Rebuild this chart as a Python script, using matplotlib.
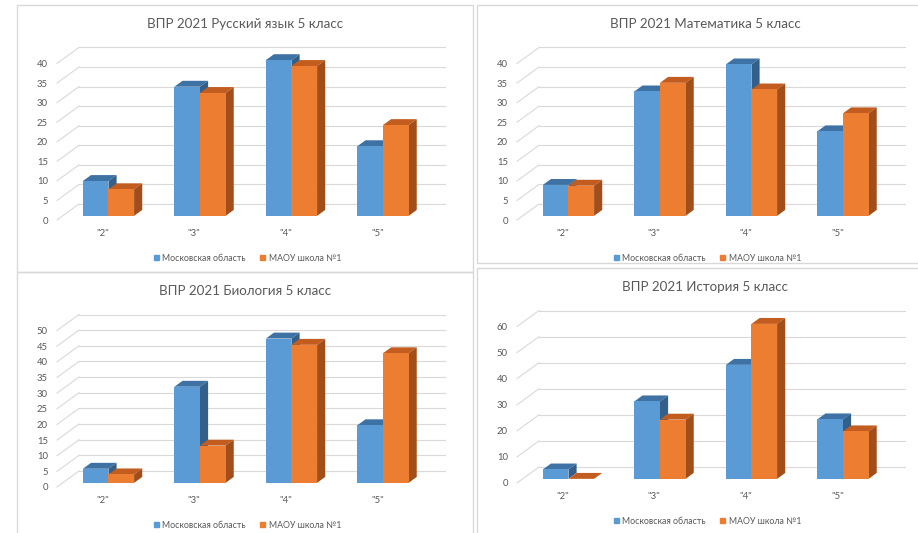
import numpy as np
import matplotlib.pyplot as plt
from matplotlib.patches import Polygon, Patch, Rectangle

plt.rcParams['font.family'] = ['Lato', 'DejaVu Sans']

# Data
CATEGORIES = ['"2"', '"3"', '"4"', '"5"']
SERIES = ['Московская область', 'МАОУ школа №1']

RUS_TITLE = 'ВПР 2021 Русский язык 5 класс'
RUS_MOSCOW = [8.9, 33.0, 39.8, 17.8]
RUS_SCHOOL = [6.8, 31.4, 38.3, 23.2]

MATH_TITLE = 'ВПР 2021 Математика 5 класс'
MATH_MOSCOW = [7.9, 31.8, 38.7, 21.6]
MATH_SCHOOL = [7.7, 34.0, 32.3, 26.2]

BIO_TITLE = 'ВПР 2021 Биология 5 класс'
BIO_MOSCOW = [4.5, 30.7, 46.1, 18.4]
BIO_SCHOOL = [2.7, 11.9, 44.1, 41.4]

HIST_TITLE = 'ВПР 2021 История 5 класс'
HIST_MOSCOW = [3.6, 29.7, 43.7, 22.8]
HIST_SCHOOL = [0.0, 22.7, 59.4, 18.2]

# Style / layout (pixels)
W, H = 918, 533
FLOOR_X, FLOOR_Y, FLOOR_W, TOP_Y = 40, 215, 366, 58.5
WALL_DX, WALL_DY = 22, 16
BAR_F0, BAR_F1 = 0.26, 0.63
BAR_W = 0.28
GRID = '#d9d9d9'
TEXT = '#595959'
BLUE = ('#5b9bd5', '#3f72a4', '#33608a')      # front, top, side
ORANGE = ('#ed7d31', '#c35c1f', '#a14e1b')

fig = plt.figure(figsize=(W / 100, H / 100), dpi=100)


def draw_box(ax, left, val, cols, wx, wy):
    x0 = left + BAR_F0 * wx
    y0 = BAR_F0 * wy
    x1 = x0 + BAR_W
    top = y0 + val
    dx = (BAR_F1 - BAR_F0) * wx
    dy = (BAR_F1 - BAR_F0) * wy
    faces = [
        ([(x0, top), (x1, top), (x1 + dx, top + dy), (x0 + dx, top + dy)], cols[1]),
        ([(x1, y0), (x1 + dx, y0 + dy), (x1 + dx, top + dy), (x1, top)], cols[2]),
        ([(x0, y0), (x1, y0), (x1, top), (x0, top)], cols[0]),
    ]
    for pts, c in faces:
        ax.add_patch(Polygon(pts, closed=True, facecolor=c, edgecolor='none',
                             clip_on=False, zorder=2))


def draw_panel(ox, oy, title, moscow, school, ymax, step):
    ax = fig.add_axes([(ox + FLOOR_X) / W, 1 - (oy + FLOOR_Y) / H,
                       FLOOR_W / W, (FLOOR_Y - TOP_Y) / H])
    ax.set_xlim(0, 4)
    ax.set_ylim(0, ymax)
    wx = WALL_DX * 4 / FLOOR_W
    wy = WALL_DY * ymax / (FLOOR_Y - TOP_Y)

    ticks = np.arange(0, ymax + step, step)
    for v in ticks:
        ax.plot([0, wx], [v, v + wy], color=GRID, lw=0.8, clip_on=False, zorder=1)
        ax.plot([wx, 4 + wx], [v + wy, v + wy], color=GRID, lw=0.8,
                clip_on=False, zorder=1)

    x = np.arange(len(CATEGORIES)) + 0.5
    for i in range(len(CATEGORIES)):
        draw_box(ax, x[i] - BAR_W, moscow[i], BLUE, wx, wy)
        draw_box(ax, x[i], school[i], ORANGE, wx, wy)

    ax.set_yticks(ticks)
    ax.set_xticks(x, CATEGORIES)
    ax.tick_params(axis='y', length=0, labelsize=6.8, colors=TEXT, pad=6.5)
    ax.tick_params(axis='x', length=0, labelsize=6.8, colors=TEXT, pad=6.5)
    for s in ax.spines.values():
        s.set_visible(False)
    ax.patch.set_visible(False)

    ax.text(0.514, 1.252, title, transform=ax.transAxes, ha='center',
            va='center', fontsize=9.6, color=TEXT)
    handles = [Patch(color=BLUE[0], label=SERIES[0]),
               Patch(color=ORANGE[0], label=SERIES[1])]
    ax.legend(handles=handles, loc='center', bbox_to_anchor=(0.52, -0.243),
              ncol=2, frameon=False, fontsize=6.3, handlelength=0.6,
              handleheight=0.6, handletextpad=0.4, columnspacing=1.6,
              labelcolor=TEXT)


# panel frames
for x0, y0, x1, y1 in [(17, 5, 473, 272), (477, 5, 925, 263),
                       (17, 272, 473, 540), (477, 268, 925, 540)]:
    fig.add_artist(Rectangle((x0 / W, 1 - y1 / H), (x1 - x0) / W, (y1 - y0) / H,
                             transform=fig.transFigure, fill=False,
                             edgecolor=GRID, lw=1))

draw_panel(17, 5, RUS_TITLE, RUS_MOSCOW, RUS_SCHOOL, 40, 5)
draw_panel(477, 5, MATH_TITLE, MATH_MOSCOW, MATH_SCHOOL, 40, 5)
draw_panel(17, 272, BIO_TITLE, BIO_MOSCOW, BIO_SCHOOL, 50, 5)
draw_panel(477, 268, HIST_TITLE, HIST_MOSCOW, HIST_SCHOOL, 60, 10)

fig.savefig('out.png', dpi=100)
